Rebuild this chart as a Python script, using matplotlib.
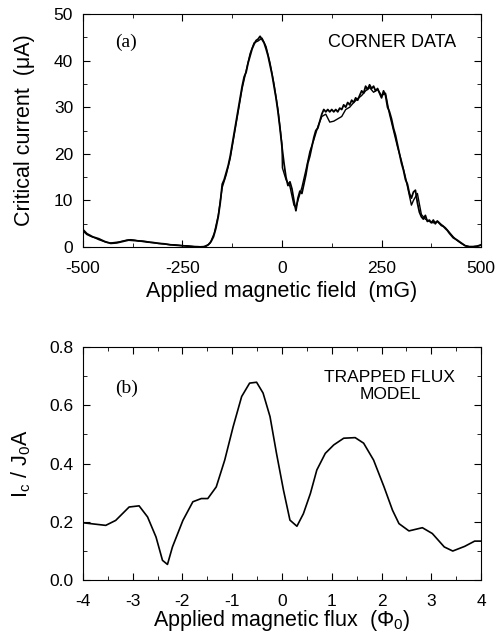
import matplotlib.pyplot as plt
from matplotlib.ticker import MultipleLocator

plt.rcParams['font.family'] = ['Liberation Sans', 'DejaVu Sans']
plt.rcParams['mathtext.fontset'] = 'custom'
plt.rcParams['mathtext.rm'] = 'Liberation Sans'
plt.rcParams['mathtext.it'] = 'Liberation Sans'
plt.rcParams['axes.unicode_minus'] = False

# (a) corner data, two sweeps
field_up = [-500, -490, -475, -460, -445, -430, -415, -400, -385, -370, -355, -340, -325, -310,
            -295, -280, -265, -250, -235, -220, -205, -195, -185, -178, -172, -166, -160, -155,
            -150, -145, -140, -135, -130, -125, -120, -115, -110, -105, -100, -95, -90, -85, -80,
            -75, -70, -65, -60, -55, -50, -45, -40, -35, -30, -25, -20, -15, -10, -5, 0, 5, 10,
            15, 20, 25, 30, 35, 40, 45, 50, 55, 60, 65, 70, 75, 80, 85, 90, 95, 100, 105, 110,
            115, 120, 125, 130, 135, 140, 145, 150, 155, 160, 165, 170, 175, 180, 185, 190, 195,
            200, 205, 210, 215, 220, 225, 230, 235, 240, 245, 250, 255, 260, 265, 270, 275, 280,
            285, 290, 295, 300, 305, 310, 315, 320, 325, 330, 335, 340, 345, 350, 355, 360, 365,
            370, 375, 380, 385, 390, 395, 400, 405, 410, 415, 420, 430, 440, 450, 460, 470, 480,
            490, 500]
ic_up = [3.8, 2.9, 2.2, 1.8, 1.2, 0.8, 0.9, 1.2, 1.5, 1.4, 1.3, 1.1, 1.0, 0.8,
         0.7, 0.5, 0.4, 0.3, 0.2, 0.1, 0.05, 0.1, 0.5, 1.2, 2.2, 4.0, 6.5, 9.5,
         13.5, 14.5, 16.0, 17.5, 19.5, 22.0, 24.5, 27.0, 29.5, 32.0, 34.5, 36.5, 37.5, 39.5, 41.0,
         42.5, 43.5, 44.3, 44.6, 45.2, 44.5, 43.8, 42.5, 41.0, 39.0, 37.0, 34.5, 32.0, 29.0, 25.5, 21.5, 18.0, 15.0,
         13.2, 14.0, 12.5, 10.0, 7.8, 10.5, 12.0, 11.5, 13.5, 15.5, 18.0, 19.5, 21.5, 23.5, 25.0, 25.5, 27.0, 28.5, 29.5, 29.0,
         29.5, 29.0, 29.5, 29.0, 29.5, 29.0, 29.8, 29.5, 30.5, 30.0, 31.0, 30.5, 31.5, 31.0, 32.0, 31.5, 32.5,
         33.5, 33.0, 34.5, 33.8, 34.8, 34.0, 34.5, 33.5, 34.0, 33.0, 32.0, 33.5, 32.5, 30.0, 29.0, 27.5, 25.5,
         24.0, 22.0, 20.0, 18.0, 16.5, 14.5, 13.5, 11.5, 10.5, 11.8, 12.2, 9.5, 7.5, 6.5, 6.0, 6.8, 5.5,
         5.8, 5.2, 5.8, 5.0, 5.6, 5.2, 4.8, 4.5, 4.0, 3.6, 3.0, 2.0, 1.5, 0.9, 0.3, 0.1, 0.1,
         0.2, 0.5]

field_down = [-500, -490, -480, -470, -460, -450, -440, -430, -420, -410, -400, -390, -380, -370,
              -360, -350, -340, -330, -320, -310, -300, -290, -280, -270, -260, -250, -240, -230,
              -220, -210, -200, -190, -180, -170, -160, -150, -140, -130, -120, -110, -100, -90,
              -80, -70, -60, -50, -40, -30, -20, -10, 0, 1, 10, 20, 30, 35, 40, 50, 60, 70, 80,
              90, 100, 110, 120, 130, 140, 150, 160, 170, 180, 190, 200, 210, 220, 230, 240, 250,
              260, 270, 280, 290, 300, 310, 320, 325, 330, 340, 350, 360, 370, 380, 390, 400, 410,
              420, 430, 440, 450, 460, 470, 480, 490, 500]
ic_down = [3.5, 2.7, 2.3, 2.0, 1.6, 1.3, 1.0, 0.9, 1.0, 1.1, 1.3, 1.5, 1.6, 1.5,
           1.3, 1.3, 1.2, 1.0, 0.9, 0.8, 0.7, 0.6, 0.5, 0.5, 0.4, 0.3, 0.3, 0.2,
           0.1, 0.1, 0.05, 0.2, 0.9, 3.0, 6.8, 12.8, 15.5, 19.0, 24.0, 29.0, 34.0, 37.8,
           41.5, 43.8, 44.2, 44.8, 43.0, 39.5, 35.0, 29.5, 22.0, 17.0, 14.5, 13.0, 9.0, 8.5, 10.0, 12.8, 16.5, 20.5, 23.0,
           25.8, 28.0, 28.5, 26.8, 27.0, 27.5, 28.0, 29.5, 30.0, 31.0, 31.8, 32.5, 33.5, 34.2, 33.2, 33.8, 32.5,
           33.0, 28.5, 25.0, 21.5, 18.5, 15.0, 11.0, 9.0, 10.0, 11.5, 7.0, 6.0, 5.5, 5.2, 5.5, 4.6, 4.2,
           3.2, 2.2, 1.4, 0.8, 0.3, 0.1, 0.1, 0.2, 0.4]

# (b) trapped flux model
flux = [-4.0, -3.54, -3.34, -3.07, -2.87, -2.70, -2.53, -2.40, -2.30, -2.20, -1.99, -1.79, -1.62,
        -1.49, -1.32, -1.15, -0.98, -0.81, -0.65, -0.51, -0.38, -0.24, -0.11, 0.03, 0.16, 0.30,
        0.43, 0.57, 0.70, 0.87, 1.04, 1.24, 1.47, 1.64, 1.84, 2.05, 2.22, 2.35, 2.55, 2.82, 3.02,
        3.26, 3.43, 3.67, 3.87, 4.0]
ic_model = [0.197, 0.188, 0.205, 0.251, 0.255, 0.217, 0.148, 0.068, 0.054, 0.114, 0.205, 0.269, 0.280,
            0.280, 0.320, 0.412, 0.527, 0.630, 0.676, 0.679, 0.642, 0.561, 0.435, 0.309, 0.206, 0.185,
            0.228, 0.297, 0.378, 0.435, 0.464, 0.487, 0.489, 0.470, 0.412, 0.320, 0.240, 0.194, 0.169, 0.180, 0.160,
            0.114, 0.100, 0.116, 0.134, 0.134]

fig = plt.figure(figsize=(4.96, 6.32), dpi=100)
ax1 = fig.add_axes([0.167, 0.609, 0.803, 0.369])
ax2 = fig.add_axes([0.167, 0.082, 0.803, 0.369])

ax1.plot(field_up, ic_up, color='black', lw=1.3)
ax1.plot(field_down, ic_down, color='black', lw=1.0)
ax1.set_xlim(-500, 500)
ax1.set_ylim(0, 50)
ax1.set_xticks([-500, -250, 0, 250, 500])
ax1.xaxis.set_minor_locator(MultipleLocator(125))
ax1.yaxis.set_major_locator(MultipleLocator(10))
ax1.yaxis.set_minor_locator(MultipleLocator(5))
ax1.set_xlabel('Applied magnetic field  (mG)', fontsize=15.5)
ax1.set_ylabel('Critical current  (\u03bcA)', fontsize=15.5)
ax1.xaxis.set_label_coords(0.5, -0.145)
ax1.yaxis.set_label_coords(-0.12, 0.5)
ax1.text(0.08, 0.876, '(a)', transform=ax1.transAxes, fontsize=14,
         family='Liberation Serif', va='center')
ax1.text(0.616, 0.876, 'CORNER DATA', transform=ax1.transAxes, fontsize=13, va='center')

ax2.plot(flux, ic_model, color='black', lw=1.2)
ax2.set_xlim(-4, 4)
ax2.set_ylim(0, 0.8)
ax2.xaxis.set_major_locator(MultipleLocator(1))
ax2.xaxis.set_minor_locator(MultipleLocator(0.5))
ax2.set_yticks([0, 0.2, 0.4, 0.6, 0.8])
ax2.set_yticklabels(['0.0', '0.2', '0.4', '0.6', '0.8'])
ax2.yaxis.set_minor_locator(MultipleLocator(0.1))
ax2.set_xlabel('Applied magnetic flux  ($\\Phi_0$)', fontsize=15.5)
ax2.set_ylabel('$\\mathregular{I_c\\ /\\ J_0A}$', fontsize=15.5)
ax2.xaxis.set_label_coords(0.5, -0.12)
ax2.yaxis.set_label_coords(-0.125, 0.5)
ax2.text(0.08, 0.824, '(b)', transform=ax2.transAxes, fontsize=14,
         family='Liberation Serif', va='center')
ax2.text(0.771, 0.833, 'TRAPPED FLUX\nMODEL', transform=ax2.transAxes, fontsize=12.5,
         ha='center', va='center', linespacing=1.15)

for ax in (ax1, ax2):
    ax.tick_params(which='both', direction='in', top=True, right=True, labelsize=12.5)
    ax.tick_params(axis='x', which='major', pad=10)
    ax.tick_params(axis='y', which='major', pad=7)
    ax.tick_params(which='major', length=5)
    ax.tick_params(which='minor', length=3)

fig.savefig('out.png', dpi=100)
